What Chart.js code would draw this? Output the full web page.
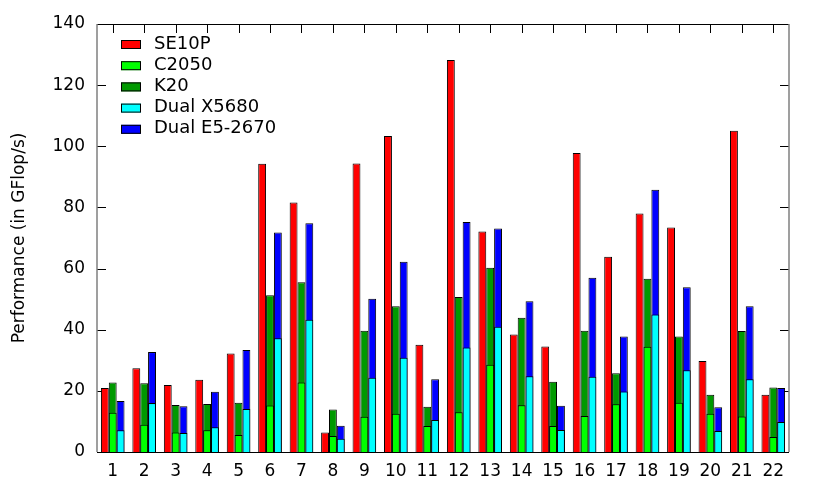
<!DOCTYPE html>
<html>
<head>
<meta charset="utf-8">
<script src="https://cdn.jsdelivr.net/npm/chart.js@4"></script>
<style>
  body { margin: 0; background: #fff; }
  #wrap { width: 822px; height: 493px; }
</style>
</head>
<body>
<div id="wrap"><canvas id="perfChart" width="822" height="493"></canvas></div>
<script>
// values (GFlop/s)
const categories = ['1','2','3','4','5','6','7','8','9','10','11','12','13','14','15','16','17','18','19','20','21','22'];
const se10p  = [20.9, 27.4, 21.9, 23.6, 32.2, 94.3, 81.6, 6.4, 94.4, 103.4, 35.1, 128.2, 72.1, 38.4, 34.5, 97.8, 63.9, 78.0, 73.4, 29.8, 105.1, 18.7];
const c2050  = [12.8, 8.9, 6.4, 7.1, 5.6, 15.2, 22.7, 5.2, 11.5, 12.5, 8.5, 13.0, 28.5, 15.3, 8.5, 11.8, 15.6, 34.4, 16.1, 12.5, 11.6, 4.9];
const k20    = [22.7, 22.5, 15.4, 15.7, 16.1, 51.3, 55.5, 13.9, 39.7, 47.7, 14.8, 50.7, 60.3, 43.9, 23.0, 39.7, 25.8, 56.7, 37.8, 18.7, 39.6, 21.1];
const x5680  = [7.1, 16.0, 6.2, 8.1, 14.1, 37.2, 43.3, 4.3, 24.3, 30.8, 10.5, 34.2, 41.0, 24.8, 7.2, 24.6, 19.8, 45.0, 26.7, 6.9, 23.8, 9.8];
const e52670 = [16.7, 32.7, 15.0, 19.7, 33.4, 71.8, 74.8, 8.6, 50.1, 62.2, 23.8, 75.2, 73.1, 49.3, 15.1, 57.0, 37.8, 85.8, 53.9, 14.6, 47.7, 20.9];
const yTicks = [0, 20, 40, 60, 80, 100, 120, 140];

const FONT = 'DejaVu Sans';

// legend drawn inside the plot, top left, like gnuplot does
const insideLegend = {
  id: 'insideLegend',
  afterDatasetsDraw(chart) {
    const ctx = chart.ctx;
    const area = chart.chartArea;
    ctx.save();
    chart.data.datasets.forEach((ds, i) => {
      const cy = area.top + 20 + i * 21.2;
      ctx.fillStyle = ds.backgroundColor;
      ctx.fillRect(area.left + 24, cy - 4, 20, 9);
      ctx.strokeStyle = '#000';
      ctx.lineWidth = 1;
      ctx.strokeRect(area.left + 24.5, cy - 3.5, 19, 8);
      ctx.fillStyle = '#000';
      ctx.font = '18px "' + FONT + '"';
      ctx.textBaseline = 'middle';
      ctx.textAlign = 'left';
      ctx.fillText(ds.label, area.left + 57, cy);
    });
    ctx.restore();
  }
};

// inward ticks go under the bars, frame on top
const frameTicks = {
  id: 'frameTicks',
  beforeDatasetsDraw(chart) {
    const ctx = chart.ctx;
    const a = chart.chartArea;
    const x = chart.scales.x, y = chart.scales.y;
    ctx.save();
    ctx.lineWidth = 1;
    ctx.strokeStyle = '#000';
    ctx.beginPath();
    yTicks.forEach(v => {
      const py = Math.round(y.getPixelForValue(v)) + 0.5;
      ctx.moveTo(a.left, py); ctx.lineTo(a.left + 9, py);
      ctx.moveTo(a.right, py); ctx.lineTo(a.right - 9, py);
    });
    categories.forEach((c, i) => {
      const px = Math.round(x.getPixelForValue(i)) + 0.5;
      ctx.moveTo(px, a.top); ctx.lineTo(px, a.top + 9);
      ctx.moveTo(px, a.bottom); ctx.lineTo(px, a.bottom - 9);
    });
    ctx.stroke();
    ctx.restore();
  },
  afterDraw(chart) {
    const ctx = chart.ctx;
    const a = chart.chartArea;
    ctx.save();
    ctx.lineWidth = 1;
    ctx.strokeStyle = '#000';
    ctx.beginPath();
    ctx.moveTo(a.left, a.top + 0.5); ctx.lineTo(a.right, a.top + 0.5);
    ctx.moveTo(a.left, a.bottom + 0.5); ctx.lineTo(a.right, a.bottom + 0.5);
    ctx.stroke();
    ctx.strokeStyle = '#808080';
    ctx.lineWidth = 1.5;
    ctx.beginPath();
    ctx.moveTo(a.left, a.top); ctx.lineTo(a.left, a.bottom);
    ctx.moveTo(a.right, a.top); ctx.lineTo(a.right, a.bottom);
    ctx.stroke();
    ctx.restore();
  }
};

const barStyle = { borderColor: '#000', borderWidth: 1, barPercentage: 1.0, categoryPercentage: 0.75 };

new Chart(document.getElementById('perfChart'), {
  type: 'bar',
  data: {
    labels: categories,
    datasets: [
      { label: 'SE10P', data: se10p, backgroundColor: '#ff0000', stack: 'a', ...barStyle },
      { label: 'C2050', data: c2050, backgroundColor: '#00ff00', stack: 'b', ...barStyle },
      { label: 'K20', data: k20, backgroundColor: '#009900', stack: 'b', ...barStyle },
      { label: 'Dual X5680', data: x5680, backgroundColor: '#00ffff', stack: 'c', ...barStyle },
      { label: 'Dual E5-2670', data: e52670, backgroundColor: '#0000ff', stack: 'c', ...barStyle }
    ]
  },
  options: {
    responsive: false,
    animation: false,
    layout: { padding: { top: 24, right: 33, left: 0, bottom: 0 } },
    plugins: { legend: { display: false }, tooltip: { enabled: false } },
    scales: {
      x: {
        stacked: true,
        grid: { display: false, drawTicks: false },
        border: { display: false },
        ticks: { color: '#000', font: { family: FONT, size: 17 }, padding: 9, maxRotation: 0, autoSkip: false },
        afterFit: s => { s.height = 41; }
      },
      y: {
        stacked: false,
        min: 0,
        max: 140,
        grid: { display: false, drawTicks: false },
        border: { display: false },
        ticks: { stepSize: 20, color: '#000', font: { family: FONT, size: 17 }, padding: 12 },
        title: { display: true, text: 'Performance (in GFlop/s)', color: '#000', font: { family: FONT, size: 17 }, padding: { top: 9, bottom: 0 } },
        afterFit: s => { s.width = 97; }
      }
    }
  },
  plugins: [insideLegend, frameTicks]
});
</script>
</body>
</html>
